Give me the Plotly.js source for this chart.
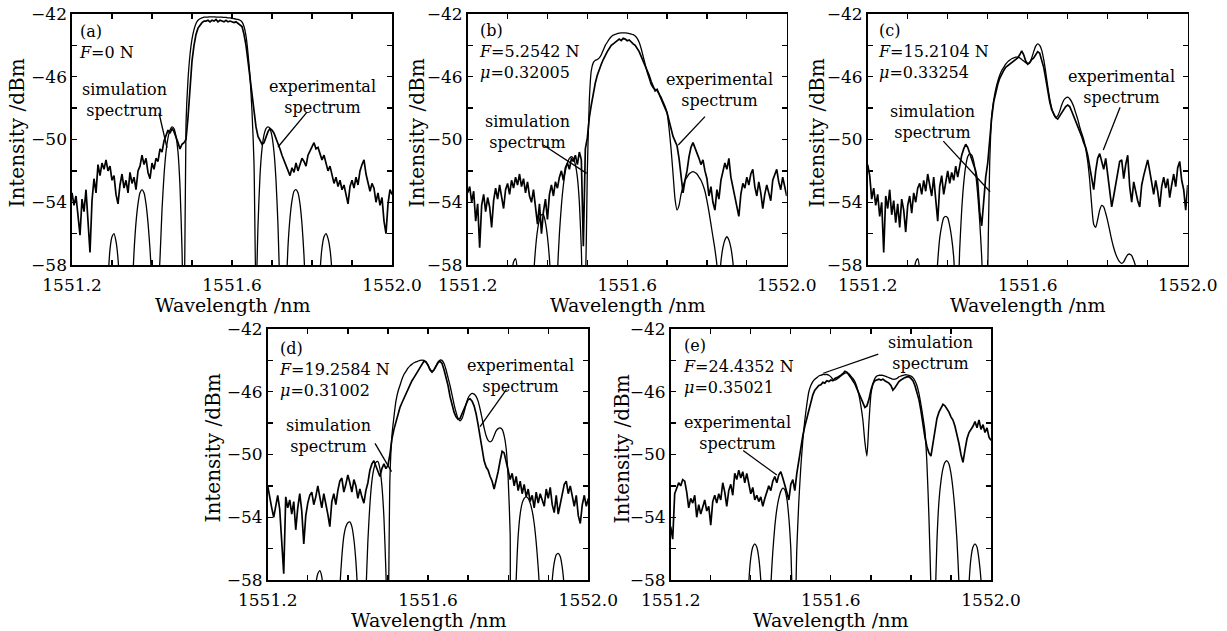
<!DOCTYPE html>
<html>
<head>
<meta charset="utf-8">
<script src="https://cdn.plot.ly/plotly-3.0.1.min.js"></script>
<style>html,body{margin:0;padding:0;background:#fff;}#chart{width:1227px;height:631px;}</style>
</head>
<body>
<div id="chart"></div>
<script>
// ---- sampling of the wavelength axis (nm) ----
const START_NM = 1551.2;
const STEP_NM = 0.005;

// ---- tick labels ----
const X_TICK_VALS = [1551.2, 1551.3, 1551.4, 1551.5, 1551.6, 1551.7, 1551.8, 1551.9, 1552.0];
const X_TICK_TEXT = ['1551.2', '', '', '', '1551.6', '', '', '', '1552.0'];
const Y_TICK_VALS = [-58, -56, -54, -52, -50, -48, -46, -44, -42];
const Y_TICK_TEXT = ['\u221258', '', '\u221254', '', '\u221250', '', '\u221246', '', '\u221242'];

// ---- panel captions ----
const CAPTIONS_A = ['(a)', '<i>F</i>=0 N'];
const CAPTIONS_B = ['(b)', '<i>F</i>=5.2542 N', '<i>\u03bc</i>=0.32005'];
const CAPTIONS_C = ['(c)', '<i>F</i>=15.2104 N', '<i>\u03bc</i>=0.33254'];
const CAPTIONS_D = ['(d)', '<i>F</i>=19.2584 N', '<i>\u03bc</i>=0.31002'];
const CAPTIONS_E = ['(e)', '<i>F</i>=24.4352 N', '<i>\u03bc</i>=0.35021'];

// ---- intensity (dBm), one value every STEP_NM from START_NM ----
const EXP_A = [
-53.4,-54.2,-53.6,-55.0,-56.1,-53.8,-54.6,-53.2,-55.3,-57.2,
-53.9,-52.5,-53.4,-51.6,-52.3,-51.5,-51.9,-51.3,-52.0,-51.7,
-52.6,-52.3,-53.5,-54.1,-52.9,-52.2,-53.1,-52.6,-53.4,-52.1,
-52.8,-52.4,-53.2,-52.0,-51.7,-51.0,-51.6,-51.2,-52.1,-52.5,
-51.5,-51.9,-51.2,-51.4,-50.6,-50.8,-50.1,-49.7,-49.4,-49.6,
-49.3,-49.5,-49.8,-50.2,-50.6,-50.3,-50.2,-50.0,-48.6,-46.5,
-45.0,-44.0,-43.3,-42.9,-42.7,-42.55,-42.45,-42.45,-42.4,-42.5,
-42.4,-42.45,-42.35,-42.5,-42.4,-42.45,-42.5,-42.4,-42.5,-42.45,
-42.5,-42.55,-42.5,-42.6,-42.65,-42.8,-43.3,-44.0,-45.0,-46.0,
-47.2,-48.2,-49.2,-49.8,-50.1,-50.3,-50.2,-49.8,-49.5,-49.3,
-49.4,-49.6,-49.9,-50.3,-50.6,-51.0,-51.3,-51.7,-51.9,-52.3,
-51.8,-52.1,-51.5,-52.0,-51.6,-51.2,-51.4,-51.7,-51.0,-50.7,
-50.4,-50.2,-50.6,-50.5,-50.9,-51.3,-51.0,-51.6,-52.0,-51.7,
-52.3,-52.8,-52.4,-53.0,-52.6,-53.2,-52.9,-53.6,-54.1,-53.0,
-52.6,-53.1,-52.4,-52.9,-52.0,-51.6,-51.3,-52.2,-52.7,-53.3,
-52.8,-53.1,-54.0,-53.4,-54.2,-53.7,-55.2,-56.0,-54.1,-53.2,-53.5];
const SIM_A = [
-70,-70,-70,-70,-70,-70,-70,-70,-70,-70,
-70,-70,-70,-70,-70,-70,-70,-62,-59.0,-57.0,
-56.2,-56.0,-56.5,-57.6,-60,-66,-70,-70,-70,-66,
-60,-57.2,-55.3,-54.1,-53.4,-53.2,-53.4,-54.1,-55.3,-57.0,
-59.5,-65,-70,-60,-57.6,-54.5,-52.3,-50.8,-49.9,-49.4,
-49.2,-49.3,-49.8,-50.8,-53.0,-57.0,-63,-49.0,-46.2,-44.6,
-43.6,-43.0,-42.6,-42.4,-42.3,-42.25,-42.2,-42.2,-42.2,-42.18,
-42.18,-42.18,-42.2,-42.2,-42.2,-42.2,-42.22,-42.22,-42.25,-42.25,
-42.28,-42.3,-42.32,-42.35,-42.4,-42.5,-42.8,-43.4,-44.5,-46.0,
-48.2,-51.5,-60,-55.5,-52.3,-50.6,-49.7,-49.3,-49.2,-49.3,
-49.8,-50.8,-52.6,-55.5,-60,-66,-66,-60,-56.8,-55.0,
-53.9,-53.3,-53.2,-53.4,-54.1,-55.4,-57.4,-60.5,-66,-70,
-70,-70,-70,-62,-58.5,-56.9,-56.2,-56.0,-56.3,-57.0,
-58.5,-62,-68,-70,-70,-70,-70,-70,-70,-70,
-70,-70,-70,-70,-70,-70,-70,-70,-70,-70,
-70,-70,-70,-70,-70,-70,-70,-70,-70,-70,-70];

const EXP_B = [
-53.4,-53.0,-54.0,-53.3,-55.2,-54.1,-56.9,-54.2,-53.5,-54.6,
-53.7,-54.3,-55.6,-53.9,-53.1,-53.8,-52.9,-53.6,-54.4,-53.2,
-52.8,-53.5,-52.6,-53.1,-52.4,-52.9,-52.2,-53.0,-52.5,-53.4,
-52.7,-53.6,-54.0,-53.2,-54.5,-55.4,-54.1,-56.0,-54.6,-53.8,
-55.1,-53.5,-52.9,-53.6,-52.7,-53.1,-52.4,-52.0,-52.6,-51.8,
-51.5,-51.9,-51.2,-51.4,-51.0,-51.6,-50.8,-51.3,-56.8,-50.6,
-49.9,-48.6,-47.8,-47.0,-46.4,-45.9,-45.5,-45.2,-44.9,-44.6,
-44.4,-44.2,-44.0,-43.9,-43.8,-43.7,-43.6,-43.7,-43.55,-43.6,
-43.7,-43.65,-43.8,-43.9,-44.0,-44.2,-44.4,-44.7,-45.0,-45.2,
-45.6,-45.9,-46.3,-46.6,-46.9,-46.8,-47.1,-47.3,-47.6,-47.9,
-48.3,-48.8,-49.3,-49.8,-50.1,-50.4,-51.2,-52.3,-53.4,-52.6,
-52.0,-51.1,-50.5,-50.2,-50.5,-50.9,-51.2,-51.6,-51.3,-52.0,
-52.5,-53.6,-53.0,-54.0,-54.5,-53.2,-53.8,-52.6,-52.1,-51.5,
-51.9,-51.2,-52.4,-53.0,-53.6,-54.3,-54.9,-53.5,-52.8,-53.1,
-52.4,-52.9,-52.2,-51.9,-53.0,-53.6,-52.7,-53.4,-54.4,-53.5,
-52.9,-53.4,-53.9,-52.6,-52.2,-51.9,-52.7,-53.2,-52.4,-53.1,-53.6];
const SIM_B = [
-70,-70,-70,-70,-70,-70,-70,-70,-70,-70,
-70,-70,-70,-70,-70,-70,-70,-70,-70,-70,
-70,-70,-59,-57.8,-57.6,-58.5,-62,-70,-70,-70,
-70,-70,-70,-59,-57.0,-55.8,-55.1,-54.8,-54.8,-55.3,
-56.2,-57.6,-60,-65,-62,-58.5,-56.0,-54.2,-52.9,-52.0,
-51.5,-51.2,-51.1,-51.2,-51.6,-52.4,-54.0,-57.0,-62,-60,
-52,-47.5,-45.6,-45.1,-44.95,-44.9,-44.8,-44.6,-44.3,-44.0,
-43.8,-43.6,-43.45,-43.35,-43.3,-43.25,-43.22,-43.2,-43.2,-43.2,
-43.22,-43.25,-43.28,-43.32,-43.4,-43.55,-43.8,-44.2,-44.7,-45.2,
-45.7,-46.1,-46.5,-46.7,-46.8,-46.9,-47.1,-47.3,-47.6,-47.9,
-48.3,-49.3,-50.6,-52.2,-53.8,-54.5,-54.2,-53.5,-53.0,-52.6,
-52.4,-52.2,-52.1,-52.05,-52.1,-52.2,-52.4,-52.6,-52.9,-53.3,
-53.9,-54.6,-55.4,-56.2,-57.0,-58.0,-59.5,-57.8,-56.9,-56.4,
-56.2,-56.4,-56.9,-57.8,-59.5,-65,-70,-70,-70,-70,
-70,-70,-70,-70,-70,-70,-70,-70,-70,-70,
-70,-70,-70,-70,-70,-70,-70,-70,-70,-70,-70];

const EXP_C = [
-51.6,-52.3,-53.8,-53.1,-54.2,-53.5,-54.9,-54.0,-57.2,-53.6,
-54.4,-53.2,-54.8,-53.9,-55.3,-54.1,-55.6,-53.8,-54.5,-55.9,
-54.2,-53.6,-54.7,-53.4,-54.0,-53.1,-52.8,-53.5,-52.6,-53.3,
-52.2,-52.9,-53.6,-52.4,-53.8,-55.2,-53.0,-52.3,-53.5,-52.6,
-52.0,-52.8,-52.1,-52.6,-51.7,-52.4,-51.6,-51.0,-50.6,-50.3,
-50.5,-50.9,-51.2,-51.6,-52.0,-52.7,-54.6,-55.5,-53.8,-52.4,
-51.5,-50.0,-48.6,-47.6,-47.0,-46.5,-46.1,-45.8,-45.6,-45.4,
-45.3,-45.2,-45.1,-45.0,-44.9,-44.8,-44.6,-44.35,-44.6,-45.0,
-45.2,-45.1,-44.9,-44.8,-44.6,-44.4,-44.5,-44.9,-45.4,-46.1,
-46.9,-47.6,-48.1,-48.4,-48.6,-48.7,-48.5,-48.3,-48.1,-47.9,
-47.8,-47.9,-48.2,-48.5,-48.8,-49.2,-49.5,-49.8,-50.2,-50.5,
-51.0,-51.8,-52.5,-53.2,-52.0,-51.2,-50.9,-51.5,-51.9,-51.2,
-52.3,-53.0,-54.3,-53.6,-52.8,-52.0,-51.4,-51.3,-52.5,-51.6,
-51.0,-53.0,-54.0,-52.7,-53.4,-53.9,-54.3,-52.9,-52.3,-51.8,
-51.3,-52.0,-52.8,-53.5,-52.6,-53.3,-54.3,-53.0,-52.4,-53.1,
-52.5,-53.7,-52.9,-52.2,-53.0,-51.8,-51.4,-52.6,-53.2,-54.5,-52.9];
const SIM_C = [
-70,-70,-70,-70,-70,-70,-70,-70,-70,-70,
-70,-70,-70,-70,-70,-70,-70,-70,-70,-70,
-70,-70,-70,-59,-57.8,-57.6,-58.3,-61,-70,-70,
-70,-70,-70,-70,-60,-57.8,-56.3,-55.5,-55.0,-54.9,
-55.0,-55.5,-56.3,-57.5,-59.5,-60,-57,-54.5,-52.8,-51.7,
-51.1,-50.9,-51.0,-51.4,-52.2,-53.5,-55.2,-57.5,-61,-66,
-58.5,-51.5,-48.5,-47.5,-46.8,-46.3,-45.9,-45.6,-45.4,-45.2,
-45.05,-44.95,-44.85,-44.8,-44.75,-44.75,-44.8,-44.9,-45.0,-45.1,
-45.15,-45.1,-44.8,-44.4,-44.05,-43.9,-44.0,-44.3,-44.9,-45.7,
-46.6,-47.4,-48.0,-48.4,-48.6,-48.5,-48.2,-47.8,-47.5,-47.35,
-47.3,-47.4,-47.6,-47.9,-48.3,-48.7,-49.2,-49.6,-50.0,-50.6,
-51.4,-52.6,-54.2,-55.4,-55.6,-55.1,-54.5,-54.2,-54.3,-54.7,
-55.2,-55.8,-56.4,-56.9,-57.3,-57.6,-57.8,-57.9,-57.8,-57.55,
-57.35,-57.3,-57.4,-57.7,-58.1,-58.6,-59.5,-61,-63,-65,
-70,-70,-70,-70,-70,-70,-70,-70,-70,-70,
-70,-70,-70,-70,-70,-70,-70,-70,-70,-70,-70];

const EXP_D = [
-52.0,-52.8,-53.4,-54.0,-53.2,-52.6,-53.5,-55.8,-57.6,-52.7,
-53.4,-52.9,-53.8,-53.0,-54.8,-53.4,-52.5,-53.6,-55.7,-53.9,
-53.1,-52.6,-52.4,-53.2,-52.7,-52.0,-52.6,-53.4,-52.5,-53.1,
-53.8,-54.6,-53.0,-52.5,-53.2,-52.3,-51.7,-51.5,-52.4,-51.9,
-51.3,-51.8,-52.4,-51.6,-52.0,-52.8,-52.2,-52.7,-53.1,-52.3,
-51.8,-51.0,-50.6,-50.4,-50.7,-51.1,-51.4,-50.9,-50.6,-50.9,
-50.7,-50.0,-49.0,-48.4,-47.9,-47.4,-47.0,-46.7,-46.4,-46.1,
-45.8,-45.5,-45.3,-45.1,-44.9,-44.7,-44.5,-44.3,-44.05,-44.1,
-44.3,-44.6,-44.75,-44.6,-44.35,-44.15,-44.05,-44.2,-44.6,-45.1,
-45.6,-46.3,-46.9,-47.3,-47.6,-47.75,-47.7,-47.4,-47.0,-46.7,
-46.5,-46.45,-46.6,-46.9,-47.4,-48.1,-48.8,-49.6,-50.4,-50.8,
-51.0,-51.4,-51.7,-52.2,-51.7,-51.1,-50.4,-49.8,-49.9,-50.4,
-51.0,-51.6,-51.2,-52.0,-51.4,-52.3,-51.7,-52.5,-51.9,-52.7,
-52.2,-53.0,-52.6,-53.4,-52.4,-53.1,-52.5,-52.9,-53.3,-52.2,
-52.8,-52.1,-53.2,-53.7,-52.6,-53.8,-53.2,-52.4,-51.9,-51.7,
-52.5,-52.0,-52.8,-53.3,-52.6,-53.9,-54.4,-53.2,-52.6,-53.3,-52.8];
const SIM_D = [
-70,-70,-70,-70,-70,-70,-70,-70,-70,-70,
-70,-70,-70,-70,-70,-70,-70,-70,-70,-70,
-70,-70,-70,-60,-58.3,-57.6,-57.4,-57.8,-59.5,-65,
-70,-70,-70,-70,-70,-62,-58.5,-56.5,-55.2,-54.6,
-54.35,-54.3,-54.6,-55.4,-56.8,-59.2,-64,-70,-64,-59,
-55.5,-53.2,-51.7,-50.9,-50.5,-50.45,-50.9,-52.0,-54.0,-57.5,
-62,-51.5,-48.8,-47.6,-46.6,-46.0,-45.6,-45.2,-44.9,-44.7,
-44.5,-44.35,-44.25,-44.15,-44.1,-44.05,-44.0,-43.98,-44.0,-44.1,
-44.3,-44.55,-44.7,-44.6,-44.35,-44.1,-43.98,-44.0,-44.2,-44.6,
-45.1,-45.6,-46.2,-46.8,-47.3,-47.7,-47.85,-47.7,-47.3,-46.8,
-46.4,-46.2,-46.1,-46.15,-46.3,-46.6,-47.1,-47.7,-48.3,-48.8,
-49.1,-49.2,-49.1,-48.8,-48.5,-48.35,-48.3,-48.4,-48.8,-49.6,
-51.5,-55,-62,-62,-58,-55.2,-53.8,-53.1,-52.8,-52.7,
-52.8,-53.1,-53.6,-54.4,-55.6,-57.2,-59.5,-64,-70,-70,
-64,-60,-58.0,-56.9,-56.4,-56.3,-56.5,-57.2,-58.5,-61,
-70,-70,-70,-70,-70,-70,-70,-70,-70,-70,-70];

const EXP_E = [
-54.6,-55.4,-52.5,-52.2,-51.8,-52.0,-51.6,-51.7,-52.4,-53.4,
-52.8,-53.1,-52.6,-54.0,-53.2,-53.8,-53.4,-52.9,-53.6,-53.3,
-54.5,-53.0,-52.6,-53.1,-52.5,-52.9,-51.8,-52.4,-53.3,-52.3,
-51.9,-52.6,-51.2,-51.6,-51.0,-51.5,-51.1,-51.8,-51.2,-52.0,
-52.5,-52.1,-52.9,-52.6,-53.0,-52.7,-53.3,-52.8,-52.4,-52.0,
-52.3,-51.7,-51.4,-51.8,-51.3,-51.1,-51.5,-51.9,-52.4,-52.9,
-51.9,-51.6,-52.3,-51.2,-50.3,-49.4,-48.8,-48.2,-47.7,-47.1,
-46.6,-46.2,-45.9,-45.75,-45.6,-45.55,-45.4,-45.45,-45.3,-45.35,
-45.25,-45.3,-45.15,-45.1,-45.05,-44.95,-44.85,-44.7,-44.75,-44.9,
-45.1,-45.3,-45.5,-45.8,-46.1,-46.5,-46.8,-47.0,-46.9,-46.5,
-45.9,-45.5,-45.3,-45.25,-45.2,-45.25,-45.2,-45.3,-45.35,-45.45,
-45.6,-45.9,-45.75,-45.5,-45.35,-45.25,-45.15,-45.1,-45.05,-45.05,
-45.15,-45.3,-45.6,-46.0,-46.5,-47.2,-48.1,-48.9,-49.5,-49.9,
-50.1,-49.2,-48.3,-47.7,-47.3,-47.0,-46.8,-46.9,-47.1,-47.3,
-47.6,-47.8,-48.2,-48.7,-49.3,-50.0,-50.5,-49.7,-49.0,-48.6,
-48.4,-48.2,-47.9,-48.3,-47.8,-48.4,-48.1,-48.6,-48.3,-48.9,-49.1];
const SIM_E = [
-70,-70,-70,-70,-70,-70,-70,-70,-70,-70,
-70,-70,-70,-70,-70,-70,-70,-70,-70,-70,
-70,-70,-70,-70,-70,-70,-70,-70,-70,-70,
-70,-70,-70,-70,-70,-70,-70,-70,-62,-58.2,
-56.6,-55.9,-55.7,-55.9,-56.6,-58.0,-61,-68,-70,-64,
-58.5,-56.2,-54.6,-53.5,-52.8,-52.35,-52.15,-52.25,-52.8,-54.0,
-56.0,-59.5,-60,-56.0,-53.0,-50.8,-49.1,-47.8,-46.8,-46.0,
-45.6,-45.35,-45.2,-45.1,-45.0,-44.95,-44.9,-44.9,-44.9,-44.95,
-45.05,-45.2,-45.25,-45.2,-45.1,-45.0,-44.9,-44.82,-44.8,-44.85,
-45.0,-45.15,-45.35,-45.7,-46.2,-46.9,-47.8,-49.2,-50.1,-48.0,
-46.2,-45.5,-45.15,-45.0,-44.95,-44.95,-44.95,-45.0,-45.05,-45.1,
-45.15,-45.2,-45.2,-45.15,-45.05,-45.0,-44.95,-44.92,-44.92,-44.95,
-45.0,-45.1,-45.3,-45.6,-46.1,-46.8,-47.6,-48.5,-50.6,-54.0,
-58.5,-64,-60,-55.5,-53.0,-51.7,-50.9,-50.5,-50.4,-50.6,
-51.2,-52.2,-53.6,-55.5,-58.2,-63,-70,-70,-62,-58.3,
-56.6,-55.9,-55.7,-55.9,-56.7,-58.0,-61,-70,-70,-70,-70];

// ---- layout of the five panels (pixel boxes of the 1227x631 figure) ----
const W = 1227, H = 631;
const FONT = 'DejaVu Serif, serif';
const panels = [
  {id: '',  box: [72, 14, 392, 265],    exp: EXP_A, sim: SIM_A, cap: CAPTIONS_A, capX: 5, capTop: 6,
   ytitleX: 16,
   labels: [
     {text: 'simulation<br>spectrum', x: 1551.332, y: -47.45, arrow: [1551.4175, -48.31, 1551.4375, -50.54]},
     {text: 'experimental<br>spectrum', x: 1551.826, y: -47.3, arrow: [1551.7875, -48.25, 1551.715, -50.48]}
   ]},
  {id: '2', box: [467.7, 14, 786.7, 265], exp: EXP_B, sim: SIM_B, cap: CAPTIONS_B, capX: 9, capTop: 5,
   ytitleX: 416,
   labels: [
     {text: 'simulation<br>spectrum', x: 1551.35, y: -49.55, arrow: [1551.3896, -50.35, 1551.4984, -52.16]},
     {text: 'experimental<br>spectrum', x: 1551.832, y: -46.85, arrow: [1551.795, -48.54, 1551.728, -50.35]}
   ]},
  {id: '3', box: [867.7, 14, 1187.7, 265], exp: EXP_C, sim: SIM_C, cap: CAPTIONS_C, capX: 8, capTop: 5,
   ytitleX: 816,
   labels: [
     {text: 'simulation<br>spectrum', x: 1551.363, y: -48.9, arrow: [1551.389, -50.1, 1551.506, -53.33]},
     {text: 'experimental<br>spectrum', x: 1551.835, y: -46.65, arrow: [1551.831, -47.95, 1551.789, -50.67]}
   ]},
  {id: '4', box: [267.7, 329, 588.3, 580], exp: EXP_D, sim: SIM_D, cap: CAPTIONS_D, capX: 9, capTop: 8,
   ytitleX: 212,
   labels: [
     {text: 'simulation<br>spectrum', x: 1551.352, y: -48.85, arrow: [1551.4678, -49.29, 1551.509, -51.09]},
     {text: 'experimental<br>spectrum', x: 1551.831, y: -45.0, arrow: [1551.796, -45.85, 1551.73, -48.23]}
   ]},
  {id: '5', box: [670.7, 329, 991, 580], exp: EXP_E, sim: SIM_E, cap: CAPTIONS_E, capX: 10, capTop: 5,
   ytitleX: 621,
   labels: [
     {text: 'simulation<br>spectrum', x: 1551.848, y: -43.55, arrow: [1551.7185, -43.6, 1551.581, -44.82]},
     {text: 'experimental<br>spectrum', x: 1551.367, y: -48.6, arrow: [1551.381, -49.75, 1551.465, -51.31]}
   ]}
];

const traces = [];
const layout = {
  width: W, height: H,
  margin: {l: 0, r: 0, t: 0, b: 0},
  paper_bgcolor: '#ffffff', plot_bgcolor: '#ffffff',
  showlegend: false,
  annotations: [], shapes: []
};

function axisStyle(isX, domain, anchor) {
  return {
    domain: domain, anchor: anchor,
    range: isX ? [1551.2, 1552.0] : [-58, -42],
    tickmode: 'array',
    tickvals: isX ? X_TICK_VALS : Y_TICK_VALS,
    ticktext: isX ? X_TICK_TEXT : Y_TICK_TEXT,
    ticks: 'inside', ticklen: 5, tickwidth: 1.3, tickcolor: '#000',
    ticklabelstandoff: isX ? 4 : 0,
    showline: true, linecolor: '#000', linewidth: 1.6, mirror: 'allticks',
    showgrid: false, zeroline: false,
    tickfont: {family: FONT, size: 17, color: '#000'},
    fixedrange: true
  };
}

panels.forEach(p => {
  const [x0, y0, x1, y1] = p.box;
  const xd = [x0 / W, x1 / W];
  const yd = [1 - y1 / H, 1 - y0 / H];
  const xa = 'x' + p.id, ya = 'y' + p.id;
  layout['xaxis' + p.id] = axisStyle(true, xd, ya);
  layout['yaxis' + p.id] = axisStyle(false, yd, xa);

  traces.push({type: 'scatter', mode: 'lines', xaxis: xa, yaxis: ya,
    x0: START_NM, dx: STEP_NM, y: p.exp,
    line: {color: '#000', width: 1.7}, hoverinfo: 'skip'});
  traces.push({type: 'scatter', mode: 'lines', xaxis: xa, yaxis: ya,
    x0: START_NM, dx: STEP_NM, y: p.sim,
    line: {color: '#000', width: 1.3, shape: 'spline', smoothing: 0.6}, hoverinfo: 'skip'});

  const ph = y1 - y0, pw = x1 - x0;
  // caption block (top-left inside the plot)
  layout.annotations.push({xref: xa + ' domain', yref: ya + ' domain',
    x: p.capX / pw, y: 1 - p.capTop / ph, xanchor: 'left', yanchor: 'top', align: 'left',
    text: p.cap.join('<br>'), showarrow: false, font: {family: FONT, size: 16, color: '#000'}});
  // spectrum labels and their pointer lines
  p.labels.forEach(l => {
    layout.annotations.push({xref: xa, yref: ya, x: l.x, y: l.y,
      xanchor: 'center', yanchor: 'middle', align: 'center', text: l.text, showarrow: false,
      font: {family: FONT, size: 16, color: '#000'}});
    layout.shapes.push({type: 'line', xref: xa, yref: ya,
      x0: l.arrow[0], y0: l.arrow[1], x1: l.arrow[2], y1: l.arrow[3],
      line: {color: '#000', width: 1.3}});
  });
  // axis titles
  const titleY = y1 + 40;
  layout.annotations.push({xref: 'paper', yref: 'paper', x: (x0 + x1) / 2 / W, y: 1 - titleY / H,
    xanchor: 'center', yanchor: 'middle', text: 'Wavelength /nm', showarrow: false,
    font: {family: FONT, size: 19, color: '#000'}});
  layout.annotations.push({xref: 'paper', yref: 'paper', x: p.ytitleX / W, y: 1 - ((y0 + y1) / 2 - 6) / H,
    xanchor: 'center', yanchor: 'middle', textangle: -90, text: 'Intensity /dBm', showarrow: false,
    font: {family: FONT, size: 20, color: '#000'}});
});

Plotly.newPlot('chart', traces, layout, {displayModeBar: false, staticPlot: true});
</script>
</body>
</html>
